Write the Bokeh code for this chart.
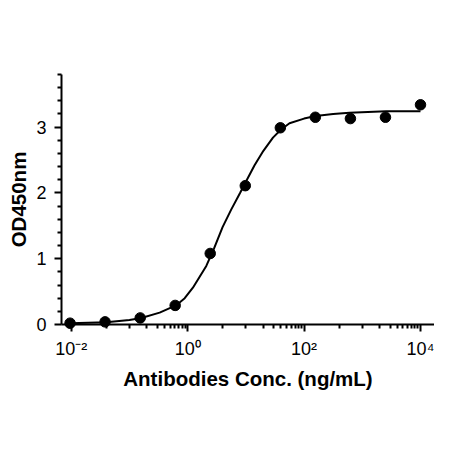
from bokeh.plotting import figure
from bokeh.models import Range1d, FixedTicker, CustomJSTickFormatter
from bokeh.embed import file_html
from bokeh.resources import INLINE

# Measured points (4-fold dilution series)
conc = [0.00954, 0.0381, 0.153, 0.610, 2.44, 9.77, 39.1, 156, 625, 2500, 10000]
od450 = [0.02, 0.04, 0.10, 0.29, 1.08, 2.11, 2.99, 3.15, 3.13, 3.15, 3.34]

# Fitted curve
fit_conc = [0.00954, 0.04, 0.1, 0.16, 0.33, 0.63, 0.89, 1.23, 2.09, 2.82, 3.98,
            5.62, 7.94, 10, 14.1, 20, 29.2, 39.8, 56.2, 100, 158, 316, 603, 2570, 10000]
fit_od = [0.02, 0.035, 0.07, 0.10, 0.18, 0.29, 0.40, 0.56, 0.89, 1.15, 1.48,
          1.75, 2.00, 2.17, 2.42, 2.64, 2.84, 2.96, 3.06, 3.13, 3.17, 3.20, 3.22, 3.24, 3.24]

x_major = [0.01, 1, 100, 10000]
x_major_labels = ["10\u207b\u00b2", "10\u2070", "10\u00b2", "10\u2074"]
x_minor = [0.04, 0.1, 0.2, 0.3, 0.4, 0.5, 0.6, 0.7, 0.8, 0.9,
           4, 10, 20, 30, 40, 50, 60, 70, 80, 90,
           400, 1000, 2000, 3000, 4000, 5000, 6000, 7000, 8000, 9000]
y_major = [0, 1, 2, 3]
y_minor = [0.2, 0.4, 0.6, 0.8, 1.2, 1.4, 1.6, 1.8, 2.2, 2.4, 2.6, 2.8,
           3.2, 3.4, 3.6, 3.8]

FONT = "Liberation Sans"

p = figure(width=434, height=434, x_axis_type="log",
           x_range=Range1d(0.0068, 17400), y_range=Range1d(0, 3.8),
           output_backend="svg", toolbar_location=None,
           min_border_left=61, min_border_right=0,
           min_border_top=74, min_border_bottom=110)

p.outline_line_color = None
p.xgrid.visible = False
p.ygrid.visible = False
p.background_fill_color = "white"
p.border_fill_color = "white"

p.line(fit_conc, fit_od, line_color="black", line_width=2, level="overlay")
p.scatter(conc, od450, size=10.5, fill_color="black", line_color="black",
          level="overlay")

for ax in (p.xaxis[0], p.yaxis[0]):
    ax.axis_line_width = 2
    ax.axis_line_color = "black"
    ax.major_tick_line_width = 2
    ax.minor_tick_line_width = 2
    ax.major_tick_line_color = "black"
    ax.minor_tick_line_color = "black"
    ax.major_tick_in = 0
    ax.minor_tick_in = 0
    ax.major_tick_out = 7
    ax.minor_tick_out = 4
    ax.major_label_text_font = FONT
    ax.major_label_text_font_size = "18px"
    ax.major_label_text_color = "black"
    ax.axis_label_text_font = FONT
    ax.axis_label_text_font_size = "20.5px"
    ax.axis_label_text_font_style = "bold"
    ax.axis_label_text_color = "black"

xa = p.xaxis[0]
xa.ticker = FixedTicker(ticks=x_major, minor_ticks=x_minor)
xa.formatter = CustomJSTickFormatter(
    args=dict(mt=x_major, ml=x_major_labels),
    code="""
    for (let i = 0; i < mt.length; i++) {
        if (Math.abs(Math.log10(mt[i]) - Math.log10(tick)) < 1e-6) return ml[i];
    }
    return "";
    """)
xa.axis_label = "Antibodies Conc. (ng/mL)"
xa.major_label_standoff = 7
xa.axis_label_standoff = 5

ya = p.yaxis[0]
ya.ticker = FixedTicker(ticks=y_major, minor_ticks=y_minor)
ya.axis_label = "OD450nm"
ya.major_label_standoff = 8
ya.axis_label_standoff = 3

open("out.html", "w").write(file_html(p, INLINE))
